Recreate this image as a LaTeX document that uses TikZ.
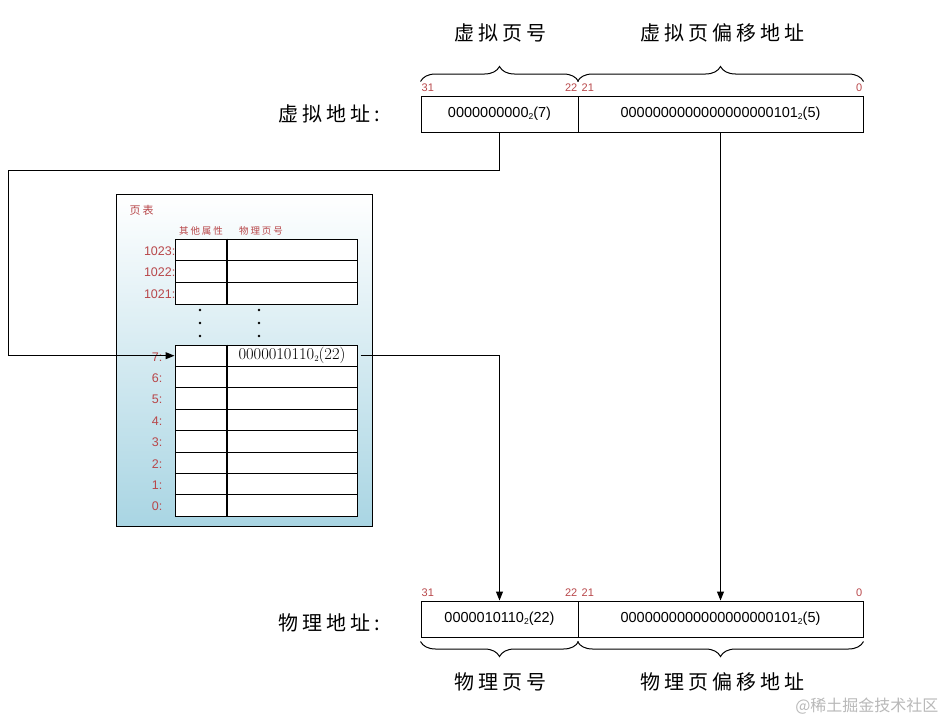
\documentclass[tikz,border=0pt]{standalone}
\usepackage{fontspec}
\usetikzlibrary{arrows.meta,positioning,calc,decorations.pathreplacing}
\newfontfamily\cjk[LetterSpace=20]{Noto Sans CJK SC}
\newfontfamily\cjkplain{Noto Sans CJK SC}
\newfontfamily\numsans{Liberation Sans}
\definecolor{PtRed}{HTML}{B8474A}
\definecolor{PtBlue}{HTML}{A9D5E3}
\definecolor{PtMid}{HTML}{CDE7EF}
\definecolor{PtMark}{HTML}{B8B8B8}
\newcommand\basetwo{\raisebox{-1.5pt}{\fontsize{8.5}{8.5}\selectfont 2}}

\begin{document}
\begin{tikzpicture}[x=1pt,y=-1pt,
    cell/.style={draw,line width=1pt,inner sep=0pt},
    addr/.style={cell,minimum height=36pt,font=\numsans\fontsize{14.5}{15}\selectfont},
    bitno/.style={font=\numsans\fontsize{11}{11}\selectfont,text=PtRed,inner sep=1pt},
    title/.style={font=\cjk\fontsize{20}{24}\selectfont},
    rowno/.style={font=\numsans\fontsize{12.5}{12.5}\selectfont,text=PtRed,inner sep=0pt,anchor=east},
    head/.style={font=\cjk\fontsize{9.5}{9.5}\selectfont,text=PtRed},
    link/.style={line width=1pt,-{Triangle[length=9pt,width=7pt]}},
    upbrace/.style={decorate,decoration={brace,amplitude=15pt},line width=1pt},
    lowbrace/.style={decorate,decoration={brace,mirror,amplitude=15pt},line width=1pt}]
  \useasboundingbox (0,0) rectangle (947,720);

  % virtual address
  \node[addr,minimum width=157pt] (vpn) at (499.5,114) {0000000000\basetwo(7)};
  \node[addr,minimum width=285pt] (voff) at (720.5,114) {0000000000000000000101\basetwo(5)};
  \node[title,anchor=east] (vlabel) at (384,114) {虚拟地址:};
  \node[bitno,anchor=south west] at ([yshift=3pt]vpn.north west) {31};
  \node[bitno,anchor=south east] at ([yshift=3pt]vpn.north east) {22};
  \node[bitno,anchor=south west] at ([xshift=3pt,yshift=3pt]voff.north west) {21};
  \node[bitno,anchor=south east] at ([yshift=3pt]voff.north east) {0};
  \draw[upbrace] ([yshift=14pt]vpn.north west) -- ([yshift=14pt]vpn.north east);
  \draw[upbrace] ([yshift=14pt]voff.north west) -- ([yshift=14pt]voff.north east);
  \node[title] (vpntitle) at (500,33) {虚拟页号};
  \node[title] (vofftitle) at (722,33) {虚拟页偏移地址};

  % physical address
  \node[addr,minimum width=157pt] (ppn) at (499.5,619) {0000010110\basetwo(22)};
  \node[addr,minimum width=285pt] (poff) at (720.5,619) {0000000000000000000101\basetwo(5)};
  \node[title,anchor=east] (plabel) at (384,623) {物理地址:};
  \node[bitno,anchor=south west] at ([yshift=3pt]ppn.north west) {31};
  \node[bitno,anchor=south east] at ([yshift=3pt]ppn.north east) {22};
  \node[bitno,anchor=south west] at ([xshift=3pt,yshift=3pt]poff.north west) {21};
  \node[bitno,anchor=south east] at ([yshift=3pt]poff.north east) {0};
  \draw[lowbrace] ([yshift=-4pt]ppn.south west) -- ([yshift=-4pt]ppn.south east);
  \draw[lowbrace] ([yshift=-4pt]poff.south west) -- ([yshift=-4pt]poff.south east);
  \node[title] (ppntitle) at (500,682) {物理页号};
  \node[title] (pofftitle) at (722,682) {物理页偏移地址};

  % page table
  \node[draw,line width=1pt,minimum width=256pt,minimum height=332pt,top color=white,middle color=PtMid,bottom color=PtBlue] (pagetab) at (244,360) {};
  \node[font=\cjk\fontsize{11}{11}\selectfont,text=PtRed,anchor=west] (pttitle) at (126,210) {页表};
  \node[head] (attrhead) at (201,231) {其他属性};
  \node[head] (pfnhead) at (261,231) {物理页号};
  \foreach \n [count=\i from 0] in {1023,1022,1021} {
    \node[cell,fill=white,minimum width=52pt,minimum height=21.7pt] (attr\n) at (201,{239+21.7*(\i+0.5)}) {};
    \node[cell,fill=white,minimum width=130pt,minimum height=21.7pt] (pfn\n) at (292,{239+21.7*(\i+0.5)}) {};
    \node[rowno] at ([xshift=1pt,yshift=-1pt]attr\n.west) {\n:};
  }
  \foreach \n [count=\i from 0] in {7,6,...,0} {
    \node[cell,fill=white,minimum width=52pt,minimum height=21.4pt] (attr\n) at (201,{345+21.4*(\i+0.5)}) {};
    \node[cell,fill=white,minimum width=130pt,minimum height=21.4pt] (pfn\n) at (292,{345+21.4*(\i+0.5)}) {};
    \node[rowno] at ([xshift=-12pt,yshift=-1pt]attr\n.west) {\n:};
  }
  \draw[line width=2pt] (pfn1023.north west) -- (pfn1021.south west);
  \draw[line width=2pt] (pfn7.north west) -- (pfn0.south west);
  \node[font=\fontsize{16.5}{16.5}\selectfont] (pfnval) at (pfn7.center) {0000010110\basetwo(22)};
  \foreach \yy in {310,323,336} {
    \fill (200,\yy) circle (1.3pt);
    \fill (259,\yy) circle (1.3pt);
  }

  % connectors
  \coordinate (turn) at (8,170);
  \draw[link] (vpn.south) |- (turn) |- (attr7.west);
  \draw[link] (voff.south) -- (poff.north);
  \draw[link] ([xshift=3pt]pfn7.east) -| (ppn.north);

  \node[font=\cjkplain\fontsize{16}{16}\selectfont,text=PtMark,anchor=east] (mark) at (942,706) {@稀土掘金技术社区};
\end{tikzpicture}
\end{document}
